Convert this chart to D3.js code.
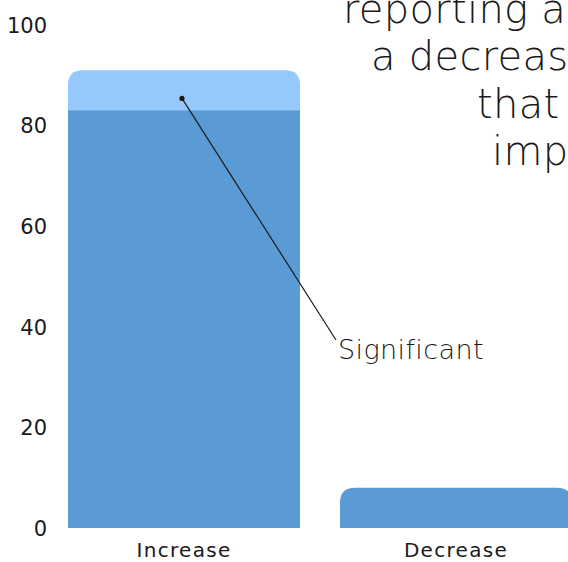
<!DOCTYPE html>
<html>
<head>
<meta charset="utf-8">
<script src="https://cdn.jsdelivr.net/npm/d3@7"></script>
<style>
  html, body { margin: 0; padding: 0; background: #fff; overflow: hidden; }
  svg { display: block; }
</style>
</head>
<body>
<svg id="chart"></svg>
<script>
const categories = ["Increase", "Decrease"],
      baseValues = [83, 8],          // dark part of the bar
      significantValues = [8, 0],    // light part stacked on top
      yTicks = [0, 20, 40, 60, 80, 100],
      titleLines = ["reporting a significant", "a decrease in", "that could be", "important"],
      noteLabel = "Significant";

const width = 568, height = 562;
const darkBlue = "#5b9bd5", lightBlue = "#95c9fb";
const font = "'DejaVu Sans', sans-serif";

const svg = d3.select("#chart")
    .attr("width", width)
    .attr("height", height);

const xScale = d3.scaleBand()
        .domain(categories)
        .range([68, 572])
        .paddingInner(40 / 272)
        .paddingOuter(0),
      yScale = d3.scaleLinear()
        .domain([0, 100])
        .range([528, 25]);

function roundedTop(x, y, w, h, r) {
    r = Math.min(r, h, w / 2);
    return `M${x},${y + h}V${y + r}Q${x},${y} ${x + r},${y}` +
           `H${x + w - r}Q${x + w},${y} ${x + w},${y + r}V${y + h}Z`;
}

const rows = categories.map((c, i) => ({
    key: c,
    base: baseValues[i],
    total: baseValues[i] + significantValues[i]
}));

// light (total) bar, rounded at top
svg.append("g").selectAll("path")
    .data(rows.filter(d => d.total > d.base))
    .enter().append("path")
    .attr("d", d => roundedTop(xScale(d.key), yScale(d.total), xScale.bandwidth(),
        yScale(0) - yScale(d.total), 15))
    .attr("fill", lightBlue);

// dark bar
svg.append("g").selectAll("path")
    .data(rows)
    .enter().append("path")
    .attr("d", d => {
        const x = xScale(d.key), w = xScale.bandwidth(),
              y = yScale(d.base), h = yScale(0) - yScale(d.base);
        return d.total > d.base ? `M${x},${y}h${w}v${h}h${-w}Z` : roundedTop(x, y, w, h, 15);
    })
    .attr("fill", darkBlue);

// y axis labels only
const yAxis = d3.axisLeft(yScale).tickValues(yTicks).tickSize(0).tickPadding(0);
svg.append("g")
    .attr("transform", "translate(47,0)")
    .call(yAxis)
    .call(g => g.select(".domain").remove())
    .selectAll("text")
    .attr("font-family", font)
    .attr("font-size", 21)
    .attr("fill", "#1a1a1a")
    .attr("dy", "0.35em");

// category labels
const xAxis = d3.axisBottom(xScale).tickSize(0).tickPadding(0);
svg.append("g")
    .attr("transform", "translate(0,541)")
    .call(xAxis)
    .call(g => g.select(".domain").remove())
    .selectAll("text")
    .attr("font-family", font)
    .attr("font-size", 20)
    .attr("letter-spacing", 1.3)
    .attr("fill", "#1a1a1a")
    .attr("dy", "0.82em");

// annotation
const inc = rows[0];
const dotX = xScale(inc.key) + xScale.bandwidth() / 2 - 2,
      dotY = yScale(inc.base + (inc.total - inc.base) * 0.3);
svg.append("line")
    .attr("x1", dotX).attr("y1", dotY)
    .attr("x2", 336).attr("y2", 340)
    .attr("stroke", "#1a1a1a")
    .attr("stroke-width", 1.2);
svg.append("circle")
    .attr("cx", dotX).attr("cy", dotY)
    .attr("r", 2.6)
    .attr("fill", "#1a1a1a");
svg.append("text")
    .attr("x", 338).attr("y", 359)
    .attr("font-family", font)
    .attr("font-weight", 300)
    .attr("font-size", 27)
    .attr("letter-spacing", 0.4)
    .attr("fill", "#1a1a1a")
    .text(noteLabel);

// title block, clipped by the window on the right
const titleX = [343, 371, 477, 492];
svg.append("g").selectAll("text")
    .data(titleLines)
    .enter().append("text")
    .attr("x", (d, i) => titleX[i])
    .attr("y", (d, i) => 23 + i * 47.4)
    .attr("font-family", font)
    .attr("font-weight", 200)
    .attr("font-size", 40)
    .attr("letter-spacing", 0.3)
    .attr("fill", "#1a1a1a")
    .text(d => d);
</script>
</body>
</html>
